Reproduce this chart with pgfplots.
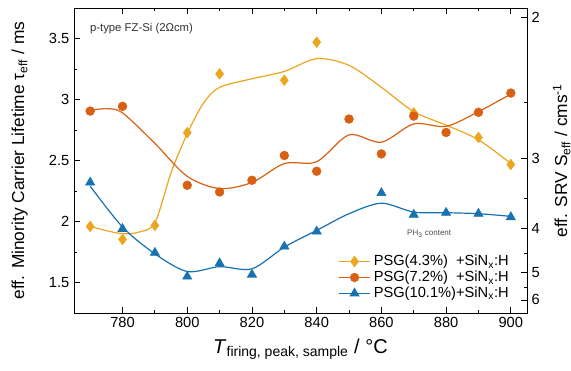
\documentclass[border=0pt]{standalone}
\usepackage{fontspec}
\setmainfont{Liberation Sans}
\usepackage{pgfplots}
\pgfplotsset{compat=1.18}
\definecolor{cY}{RGB}{236,165,30}
\definecolor{cO}{RGB}{217,96,18}
\definecolor{cB}{RGB}{24,114,178}

\pgfplotstableread{
T tau
770 1.96
780 1.853
790 1.968
800 2.728
810 3.21
830 3.158
840 3.47
870 2.89
890 2.689
900 2.467
}\dataY
\pgfplotstableread{
T tau
770 2.905
780 2.944
800 2.297
810 2.242
820 2.338
830 2.541
840 2.412
850 2.84
860 2.554
870 2.864
880 2.73
890 2.895
900 3.053
}\dataO
\pgfplotstableread{
T tau
770 2.32
780 1.94
790 1.744
800 1.549
810 1.658
820 1.565
830 1.795
840 1.919
860 2.234
870 2.056
880 2.072
890 2.064
900 2.036
}\dataB

\begin{document}
\begin{tikzpicture}
\begin{axis}[
  at={(0,0)}, anchor=south west, scale only axis,
  width=339.75pt, height=228.75pt,
  xmin=765, xmax=905, ymin=1.25, ymax=3.75,
  xtick={780,800,...,900}, minor x tick num=1,
  ytick={1.5,2,...,3.5}, minor y tick num=1,
  ytick pos=left,
  tick align=inside,
  major tick length=4.5pt, minor tick length=2.5pt,
  axis line style={line width=0.7pt},
  every tick/.style={line width=0.6pt, black},
  tick label style={font=\fontsize{11}{13}\selectfont},
  ylabel style={font=\fontsize{13}{15}\selectfont},
  xlabel style={font=\fontsize{15}{17}\selectfont},
  ylabel shift=9pt, xlabel shift=1pt,
  /pgf/number format/assume math mode=true,
  xlabel={\textit{T}\textsubscript{firing, peak, sample} / °C},
  ylabel={eff. Minority Carrier Lifetime τ\textsubscript{eff} / ms},
  legend style={draw=none, fill=none, at={(0.975,0.025)}, anchor=south east,
    font=\fontsize{11}{13}\selectfont, row sep=-1.5pt},
  legend cell align=left,
  legend image code/.code={\draw[mark repeat=2, mark phase=2, #1] plot coordinates {(0cm,0cm) (0.42cm,0cm) (0.84cm,0cm)};},
]
% fitted curves
\addplot[cY, line width=0.9pt, smooth, forget plot] coordinates {
(770,1.96)(775,1.925)(780,1.90)(785,1.913)(790,1.99)(795,2.40)(800,2.72)(805,2.97)(810,3.10)(820,3.17)(830,3.23)(840,3.335)(850,3.28)(860,3.10)(870,2.90)(880,2.79)(890,2.67)(900,2.475)};
\addplot[cO, line width=0.9pt, smooth, forget plot] coordinates {
(770,2.91)(775,2.925)(780,2.89)(790,2.64)(800,2.37)(810,2.27)(820,2.32)(830,2.475)(840,2.49)(850,2.71)(860,2.65)(870,2.80)(880,2.78)(890,2.90)(900,3.045)};
\addplot[cB, line width=0.9pt, smooth, forget plot] coordinates {
(770,2.29)(780,1.955)(790,1.735)(800,1.59)(810,1.63)(820,1.612)(830,1.79)(840,1.927)(850,2.064)(860,2.15)(870,2.077)(880,2.072)(890,2.064)(900,2.042)};
% markers
\addplot[only marks, mark=diamond*, mark size=4pt, color=cY, forget plot] table[x=T,y=tau] {\dataY};
\addplot[only marks, mark=*, mark size=3.3pt, color=cO, forget plot] table[x=T,y=tau] {\dataO};
\addplot[only marks, mark=triangle*, mark size=4pt, color=cB, forget plot] table[x=T,y=tau] {\dataB};
\addlegendimage{cY, line width=0.9pt, mark=diamond*, mark size=3.6pt}
\addlegendentry{\makebox[0pt][l]{PSG(4.3\%)}\phantom{PSG(10.1\%)}+SiN\textsubscript{x}:H}
\addlegendimage{cO, line width=0.9pt, mark=*, mark size=3pt}
\addlegendentry{\makebox[0pt][l]{PSG(7.2\%)}\phantom{PSG(10.1\%)}+SiN\textsubscript{x}:H}
\addlegendimage{cB, line width=0.9pt, mark=triangle*, mark size=3.6pt}
\addlegendentry{PSG(10.1\%)+SiN\textsubscript{x}:H}
\node[anchor=west, font=\fontsize{8.5}{10}\selectfont, text=black!80] at (rel axis cs:0.025,0.934) {p-type FZ-Si (2Ωcm)};
\node[font=\fontsize{6}{7}\selectfont, text=black!70] at (rel axis cs:0.784,0.259) {PH\textsubscript{3} content};
\end{axis}
\begin{axis}[
  at={(0,0)}, anchor=south west, scale only axis,
  width=339.75pt, height=228.75pt,
  xmin=765, xmax=905, ymin=1.25, ymax=3.75,
  axis x line=none, axis y line*=right,
  ytick={1.357,1.584,1.941,2.516,3.676}, yticklabels={6,5,4,3,2},
  minor ytick={1.461,1.738,2.188,2.974},
  tick align=inside,
  major tick length=4.5pt, minor tick length=2.5pt,
  axis line style={line width=0.7pt},
  every tick/.style={line width=0.6pt, black},
  tick label style={font=\fontsize{11}{13}\selectfont},
  label style={font=\fontsize{13}{15}\selectfont},
  ylabel shift=3pt,
  ylabel={eff. SRV S\textsubscript{eff} / cms\textsuperscript{-1}},
]
\end{axis}
\pgfresetboundingbox
\path[use as bounding box] (-55.5pt,-43.5pt) rectangle (372.75pt,234.75pt);
\end{tikzpicture}
\end{document}
